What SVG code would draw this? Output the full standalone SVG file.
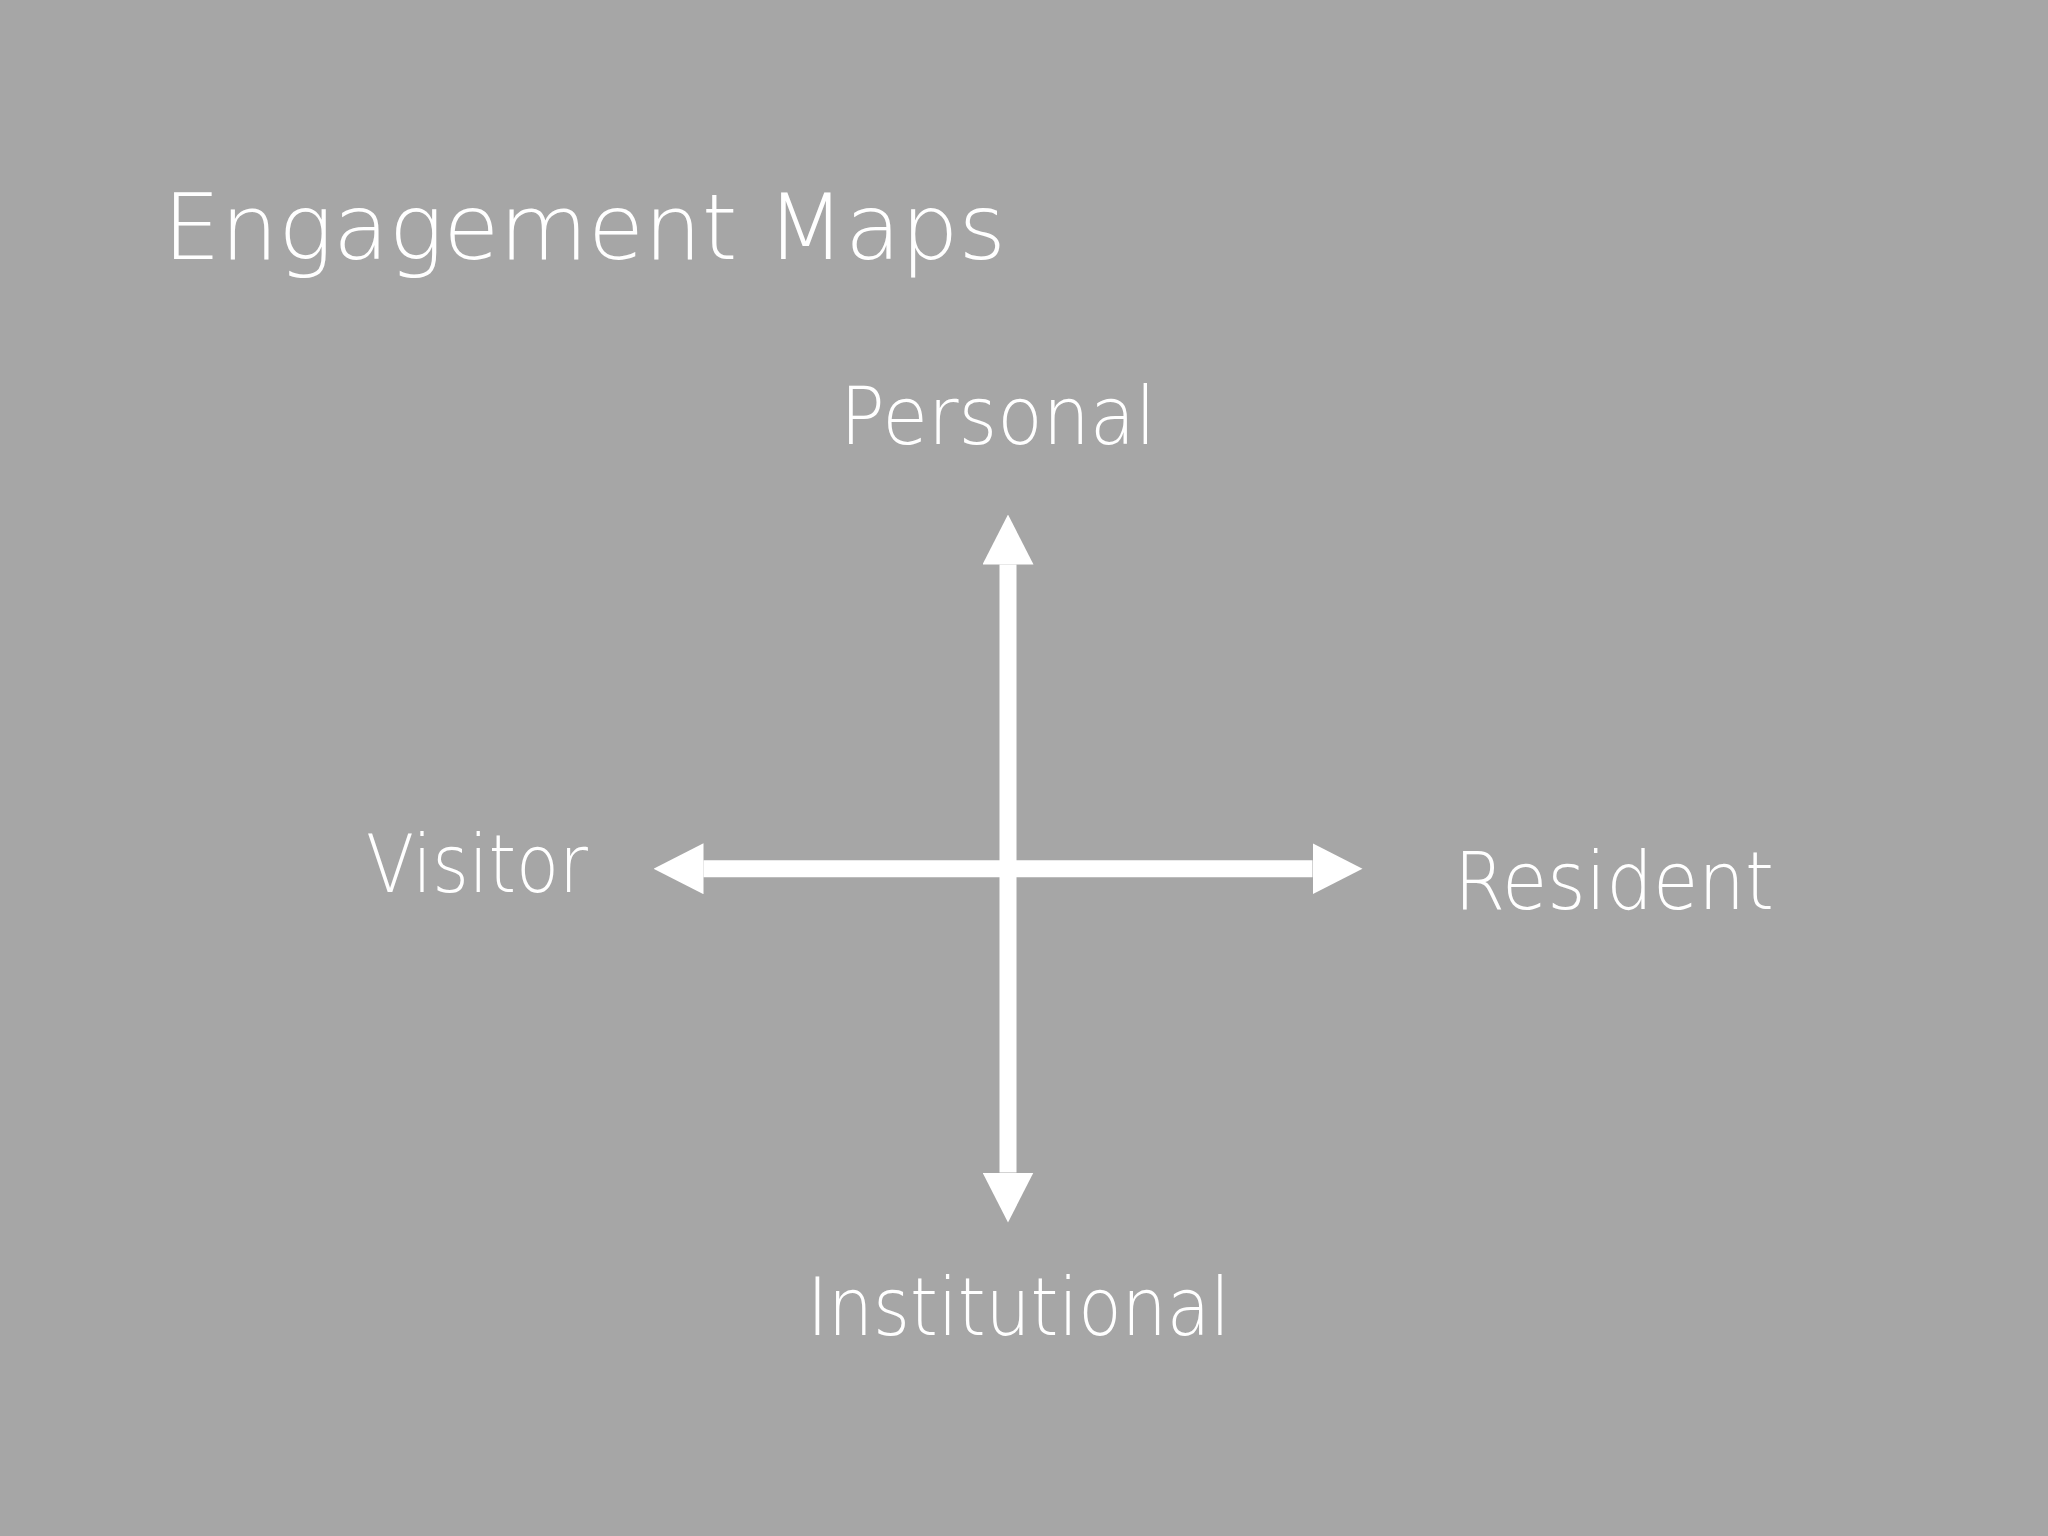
<svg xmlns="http://www.w3.org/2000/svg" width="2048" height="1536" viewBox="0 0 2048 1536">
<style>
.lbl{font-family:"DejaVu Sans","Liberation Sans",sans-serif;font-weight:200;fill:#ffffff;}
.ax{stroke:#ffffff;stroke-width:17;fill:none;}
</style>
<defs>
<marker id="head" viewBox="0 0 50 51" markerUnits="userSpaceOnUse" markerWidth="50" markerHeight="51" refX="0" refY="25.5" orient="auto-start-reverse">
<path d="M0,0 L50,25.5 L0,51 z" fill="#ffffff"/>
</marker>
</defs>
<rect width="2048" height="1536" fill="#a6a6a6"/>
<g id="title"><text class="lbl" x="163" y="259" font-size="90" textLength="843" lengthAdjust="spacingAndGlyphs">Engagement Maps</text></g>
<g id="connectors">
<line class="ax" x1="1008" y1="564.5" x2="1008" y2="1172.5" marker-start="url(#head)" marker-end="url(#head)"/>
<line class="ax" x1="703.5" y1="868.7" x2="1312.5" y2="868.7" marker-start="url(#head)" marker-end="url(#head)"/>
</g>
<g id="personal"><text class="lbl" x="840" y="444" font-size="81" textLength="316" lengthAdjust="spacingAndGlyphs">Personal</text></g>
<g id="visitor"><text class="lbl" x="366" y="892" font-size="81" textLength="222" lengthAdjust="spacingAndGlyphs">Visitor</text></g>
<g id="resident"><text class="lbl" x="1454" y="909" font-size="81" textLength="320" lengthAdjust="spacingAndGlyphs">Resident</text></g>
<g id="institutional"><text class="lbl" x="807" y="1335" font-size="81" textLength="423" lengthAdjust="spacingAndGlyphs">Institutional</text></g>
</svg>
